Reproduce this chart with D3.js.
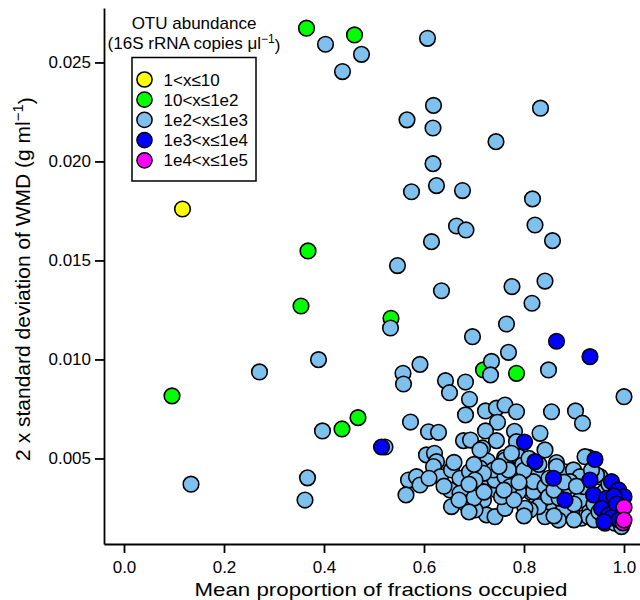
<!DOCTYPE html>
<html>
<head>
<meta charset="utf-8">
<script src="https://d3js.org/d3.v7.min.js"></script>
<style>
  body { margin: 0; background: #fff; }
  svg text { font-family: "Liberation Sans", Arial, sans-serif; fill: #000; }
</style>
</head>
<body>
<script>
'use strict';

// abundance classes, legend order
const classLabels = ["1<x≤10", "10<x≤1e2", "1e2<x≤1e3", "1e3<x≤1e4", "1e4<x≤1e5"];
const classColors = ["#ffff00", "#00ff00", "#7ec0ee", "#0000ff", "#ff00ff"];

const xTicks = [0, 0.2, 0.4, 0.6, 0.8, 1.0];
const yTicks = [0.005, 0.010, 0.015, 0.020, 0.025];

// [mean proportion occupied, 2 x sd of WMD] for each OTU
const otu1e1 = [[0.117, 0.0176]];

const otu1e2 = [
  [0.365, 0.02673], [0.461, 0.02639], [0.368, 0.01548], [0.354, 0.01270],
  [0.534, 0.01208], [0.096, 0.00816], [0.468, 0.00706], [0.436, 0.00649],
  [0.785, 0.00930], [0.719, 0.00947]
];

const otu1e3 = [
  [0.403, 0.02592], [0.475, 0.02541], [0.437, 0.02454], [0.607, 0.02622], [0.619, 0.02283],
  [0.566, 0.02210], [0.618, 0.02169], [0.833, 0.02269], [0.744, 0.02100], [0.618, 0.01989],
  [0.575, 0.01847], [0.625, 0.01878], [0.677, 0.01853], [0.817, 0.01811], [0.665, 0.01674],
  [0.684, 0.01654], [0.822, 0.01679], [0.857, 0.01600], [0.615, 0.01595], [0.547, 0.01474],
  [0.635, 0.01347], [0.776, 0.01368], [0.842, 0.01396], [0.816, 0.01284], [0.533, 0.01159],
  [0.765, 0.01179], [0.697, 0.01115], [0.769, 0.01036], [0.735, 0.00990], [0.592, 0.00975],
  [0.389, 0.00999], [0.271, 0.00937], [0.558, 0.00930], [0.559, 0.00876], [0.733, 0.00922],
  [0.849, 0.00947], [0.643, 0.00893], [0.651, 0.00832], [0.683, 0.00886], [0.691, 0.00799],
  [1.000, 0.00812], [0.397, 0.00639], [0.522, 0.00558], [0.367, 0.00402], [0.134, 0.00370],
  [0.362, 0.00290],
  [0.573, 0.00684], [0.683, 0.00720], [0.723, 0.00740], [0.745, 0.00754], [0.762, 0.00770],
  [0.785, 0.00736], [0.747, 0.00683], [0.855, 0.00736], [0.903, 0.00740], [0.917, 0.00678],
  [0.609, 0.00635], [0.629, 0.00632], [0.723, 0.00639], [0.781, 0.00637], [0.832, 0.00627],
  [0.679, 0.00590], [0.693, 0.00593], [0.745, 0.00590], [0.785, 0.00585], [0.717, 0.00553],
  [0.842, 0.00543], [0.605, 0.00518], [0.621, 0.00526], [0.625, 0.00484], [0.727, 0.00487],
  [0.761, 0.00504], [0.789, 0.00509], [0.797, 0.00467], [0.865, 0.00479], [0.929, 0.00506],
  [0.619, 0.00459], [0.633, 0.00408], [0.655, 0.00442], [0.672, 0.00400], [0.691, 0.00433],
  [0.712, 0.00451], [0.725, 0.00408], [0.741, 0.00400], [0.765, 0.00375], [0.785, 0.00417],
  [0.825, 0.00433], [0.882, 0.00433], [0.899, 0.00442], [0.912, 0.00408], [0.952, 0.00408],
  [0.569, 0.00391], [0.585, 0.00408], [0.592, 0.00366], [0.564, 0.00316], [0.652, 0.00341],
  [0.672, 0.00324], [0.705, 0.00349], [0.745, 0.00341], [0.765, 0.00307], [0.815, 0.00327],
  [0.845, 0.00307], [0.912, 0.00324], [0.655, 0.00257], [0.682, 0.00274], [0.719, 0.00290],
  [0.725, 0.00215], [0.742, 0.00206], [0.762, 0.00248], [0.805, 0.00231], [0.825, 0.00274],
  [0.845, 0.00257], [0.859, 0.00240], [0.915, 0.00198], [0.932, 0.00240], [0.702, 0.00240],
  [0.755, 0.00307], [0.742, 0.00391], [0.712, 0.00543], [0.762, 0.00492], [0.739, 0.00442],
  [0.762, 0.00408], [0.719, 0.00425], [0.702, 0.00391], [0.775, 0.00526], [0.769, 0.00442],
  [0.945, 0.00417], [0.895, 0.00316], [0.912, 0.00290], [0.929, 0.00206], [0.895, 0.00231],
  [0.879, 0.00240], [0.869, 0.00189], [0.842, 0.00206], [0.829, 0.00257], [0.819, 0.00332],
  [0.812, 0.00240], [0.802, 0.00248], [0.789, 0.00332], [0.772, 0.00358], [0.819, 0.00383],
  [0.842, 0.00358], [0.849, 0.00307], [0.882, 0.00349], [0.892, 0.00383], [0.919, 0.00358],
  [0.955, 0.00206], [0.962, 0.00173], [0.982, 0.00173], [0.995, 0.00156], [0.989, 0.00290],
  [0.922, 0.00509], [0.865, 0.00459],
  [0.800, 0.00440], [0.850, 0.00400], [0.870, 0.00300], [0.900, 0.00270], [0.940, 0.00270],
  [0.960, 0.00330], [0.975, 0.00250], [0.985, 0.00210], [0.940, 0.00190], [0.780, 0.00290],
  [0.700, 0.00300], [0.690, 0.00370], [0.640, 0.00360], [0.610, 0.00400], [0.660, 0.00480],
  [0.700, 0.00470], [0.750, 0.00460], [0.810, 0.00500], [0.830, 0.00470], [0.860, 0.00340],
  [0.880, 0.00380], [0.905, 0.00360], [0.970, 0.00370], [0.935, 0.00440], [0.975, 0.00300],
  [0.990, 0.00240], [0.690, 0.00230], [0.670, 0.00290], [0.720, 0.00330], [0.790, 0.00380],
  [0.760, 0.00340], [0.800, 0.00210], [0.860, 0.00210], [0.900, 0.00190], [0.950, 0.00230]
];

const otu1e4 = [
  [0.865, 0.01092], [0.932, 0.01014], [0.515, 0.00558], [0.801, 0.00583], [0.822, 0.00484],
  [0.859, 0.00400], [0.942, 0.00495], [0.932, 0.00391], [0.882, 0.00290], [0.975, 0.00383],
  [0.989, 0.00341], [0.939, 0.00316], [0.965, 0.00299], [0.955, 0.00248], [0.969, 0.00215],
  [1.000, 0.00307], [0.980, 0.00310], [0.985, 0.00270], [0.975, 0.00200], [0.990, 0.00190],
  [0.960, 0.00180]
];

const otu1e5 = [[0.998, 0.00175], [1.000, 0.00254], [1.000, 0.00189]];

const series = [otu1e1, otu1e2, otu1e3, otu1e4, otu1e5];

const width = 640, height = 600;

const svg = d3.select('body').append('svg')
  .attr('width', width)
  .attr('height', height);

const x = d3.scaleLinear().domain([-0.04, 1.04]).range([104, 644]);
const y = d3.scaleLinear().domain([0.00068, 0.02775]).range([544, 8]);

// points, one group per abundance class so higher classes sit on top
series.forEach((pts, i) => {
  svg.append('g')
    .selectAll('circle')
    .data(pts)
    .join('circle')
      .attr('cx', d => x(d[0]))
      .attr('cy', d => y(d[1]))
      .attr('r', 7.8)
      .attr('fill', classColors[i])
      .attr('stroke', '#000')
      .attr('stroke-width', 1.6);
});

// axes (L-shaped box)
const yAxis = svg.append('g')
  .attr('transform', `translate(${x(-0.04)},0)`)
  .call(d3.axisLeft(y).tickValues(yTicks).tickSize(9).tickSizeOuter(0)
    .tickPadding(4).tickFormat(d3.format('.3f')));

const xAxis = svg.append('g')
  .attr('transform', `translate(0,${y(0.00068)})`)
  .call(d3.axisBottom(x).tickValues(xTicks).tickSize(9).tickSizeOuter(0)
    .tickPadding(8).tickFormat(d3.format('.1f')));

[xAxis, yAxis].forEach(g => {
  g.selectAll('path, line').attr('stroke', '#000').attr('stroke-width', 1.8);
  g.selectAll('text').style('font-size', '17px')
    .style('font-family', '"Liberation Sans", Arial, sans-serif');
});

// axis titles
svg.append('text')
  .attr('x', 381)
  .attr('y', 596)
  .attr('text-anchor', 'middle')
  .attr('textLength', 373)
  .attr('lengthAdjust', 'spacingAndGlyphs')
  .style('font-size', '19px')
  .text('Mean proportion of fractions occupied');

const yTitle = svg.append('text')
  .attr('transform', 'translate(30,279) rotate(-90)')
  .attr('text-anchor', 'middle')
  .style('font-size', '21px');
yTitle.append('tspan').text('2 x standard deviation of WMD (g ml');
yTitle.append('tspan').attr('dy', '-0.45em').style('font-size', '15px').text('\u22121');
yTitle.append('tspan').attr('dy', '0.45em').text(')');

// legend
const legTitle = svg.append('g');
legTitle.append('text')
  .attr('x', 194).attr('y', 28.5)
  .attr('text-anchor', 'middle')
  .style('font-size', '17px')
  .text('OTU abundance');
const unitLine = legTitle.append('text')
  .attr('x', 194).attr('y', 48.5)
  .attr('text-anchor', 'middle')
  .style('font-size', '17px');
unitLine.append('tspan').text('(16S rRNA copies \u03bcl');
unitLine.append('tspan').attr('dy', '-0.45em').style('font-size', '12px').text('\u22121');
unitLine.append('tspan').attr('dy', '0.45em').text(')');

svg.append('rect')
  .attr('x', 132).attr('y', 57.5)
  .attr('width', 124).attr('height', 123.5)
  .attr('fill', 'none')
  .attr('stroke', '#000')
  .attr('stroke-width', 1.5);

const legRows = svg.append('g')
  .selectAll('g')
  .data(classLabels)
  .join('g')
    .attr('transform', (d, i) => `translate(144.5,${79.5 + i * 20.2})`);

legRows.append('circle')
  .attr('r', 7.6)
  .attr('fill', (d, i) => classColors[i])
  .attr('stroke', '#000')
  .attr('stroke-width', 1.5);

legRows.append('text')
  .attr('x', 19)
  .attr('y', 6)
  .style('font-size', '17px')
  .text(d => d);
</script>
</body>
</html>
